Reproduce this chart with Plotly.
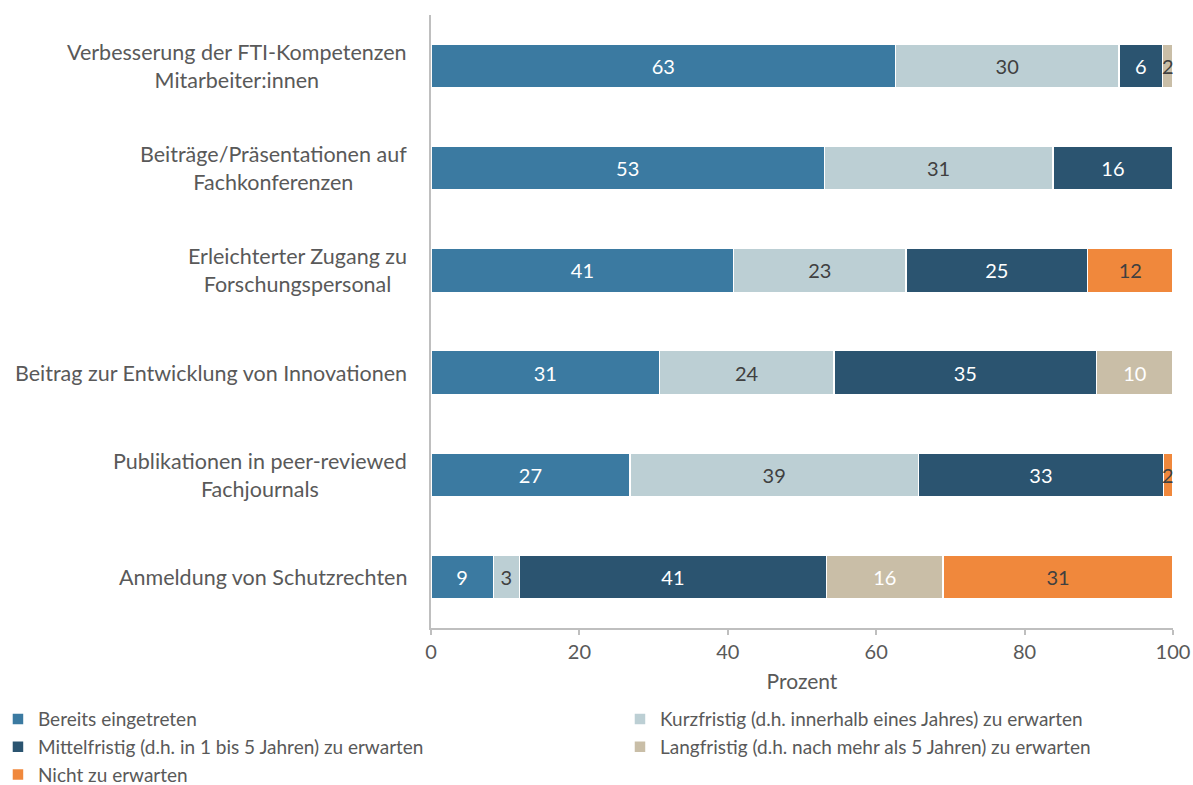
import plotly.graph_objects as go

categories = [
    "Verbesserung der FTI-Kompetenzen<br>Mitarbeiter:innen",
    "Beiträge/Präsentationen auf<br>Fachkonferenzen",
    "Erleichterter Zugang zu<br>Forschungspersonal",
    "Beitrag zur Entwicklung von Innovationen",
    "Publikationen in peer-reviewed<br>Fachjournals",
    "Anmeldung von Schutzrechten",
]

series_names = [
    "Bereits eingetreten",
    "Kurzfristig (d.h. innerhalb eines Jahres) zu erwarten",
    "Mittelfristig (d.h. in 1 bis 5 Jahren) zu erwarten",
    "Langfristig (d.h. nach mehr als 5 Jahren) zu erwarten",
    "Nicht zu erwarten",
]

# bar lengths (percent)
bereits = [62.6, 53.0, 40.8, 30.8, 26.8, 8.4]
kurzfristig = [30.1, 30.8, 23.2, 23.5, 38.9, 3.5]
mittelfristig = [5.9, 16.2, 24.5, 35.4, 33.0, 41.4]
langfristig = [1.4, 0, 0, 10.3, 0, 15.7]
nicht = [0, 0, 11.5, 0, 1.3, 31.0]

# printed labels (rounded values shown in the chart)
bereits_lbl = ["63", "53", "41", "31", "27", "9"]
kurzfristig_lbl = ["30", "31", "23", "24", "39", "3"]
mittelfristig_lbl = ["6", "16", "25", "35", "33", "41"]
langfristig_lbl = ["2", "", "", "10", "", "16"]
nicht_lbl = ["", "", "12", "", "2", "31"]

colors = ["#3b7aa1", "#bccfd4", "#2b5470", "#c9bea7", "#f0883c"]
DARK = "#404040"
WHITE = "#ffffff"
label_colors = [WHITE, DARK, WHITE, WHITE, DARK]
# left legend column / right legend column
legend_slot = ["legend", "legend2", "legend", "legend2", "legend"]

FONT = "Lato"
GREY = "#595959"

values = [bereits, kurzfristig, mittelfristig, langfristig, nicht]
labels = [bereits_lbl, kurzfristig_lbl, mittelfristig_lbl, langfristig_lbl, nicht_lbl]

fig = go.Figure()
offsets = [0.0] * len(categories)
for name, vals, lbls, col, tcol, lg in zip(series_names, values, labels, colors,
                                            label_colors, legend_slot):
    # segments too narrow for their label get the label as an annotation
    inner = []
    for i, (v, t) in enumerate(zip(vals, lbls)):
        if t and v < 2.5:
            inner.append("")
            fig.add_annotation(
                x=offsets[i] + v / 2, y=categories[i], xref="x", yref="y",
                text=t, showarrow=False,
                font=dict(family=FONT, size=20, color=DARK),
            )
        else:
            inner.append(t)
        offsets[i] += v
    fig.add_trace(go.Bar(
        y=categories,
        x=vals,
        name=name,
        orientation="h",
        marker=dict(color=col, line=dict(color="white", width=1.5)),
        text=inner,
        textposition="inside",
        insidetextanchor="middle",
        constraintext="none",
        insidetextfont=dict(family=FONT, size=20, color=tcol),
        hoverinfo="x+name",
        width=0.43,
        legend=lg,
    ))

# category labels drawn centred, right-aligned against the axis
for cat in categories:
    fig.add_annotation(
        x=0, xref="paper", xshift=-22,
        y=cat, yref="y",
        text=cat, showarrow=False,
        xanchor="right", align="center",
        font=dict(family=FONT, size=21.5, color=GREY),
    )

fig.update_xaxes(
    range=[0, 100],
    tickvals=[0, 20, 40, 60, 80, 100],
    showgrid=False,
    zeroline=False,
    showline=True,
    linecolor="#bfbfbf",
    linewidth=2,
    ticks="outside",
    ticklen=5,
    tickwidth=1.5,
    tickcolor="#bfbfbf",
    tickfont=dict(family=FONT, size=20, color=GREY),
    title=dict(text="Prozent", font=dict(family=FONT, size=21, color=GREY), standoff=12),
)
fig.update_yaxes(
    autorange="reversed",
    showticklabels=False,
    showgrid=False,
    showline=True,
    linecolor="#bfbfbf",
    linewidth=2,
)

legend_style = dict(
    orientation="v",
    xref="paper", xanchor="left",
    yref="container", y=0.108, yanchor="top",
    font=dict(family=FONT, size=19, color=GREY),
    itemwidth=30,
    tracegroupgap=0,
    traceorder="normal",
    bgcolor="rgba(0,0,0,0)",
)

fig.update_layout(
    barmode="stack",
    width=1193,
    height=785,
    margin=dict(l=431, r=20, t=15, b=157, autoexpand=False),
    plot_bgcolor="white",
    paper_bgcolor="white",
    legend=dict(x=-0.5836, **legend_style),
    legend2=dict(x=0.2547, **legend_style),
)

# drop the default page margin so the figure fills the window exactly
fig.write_html(
    "out.html",
    config={"displayModeBar": False},
    post_script="document.body.style.margin='0';",
)
